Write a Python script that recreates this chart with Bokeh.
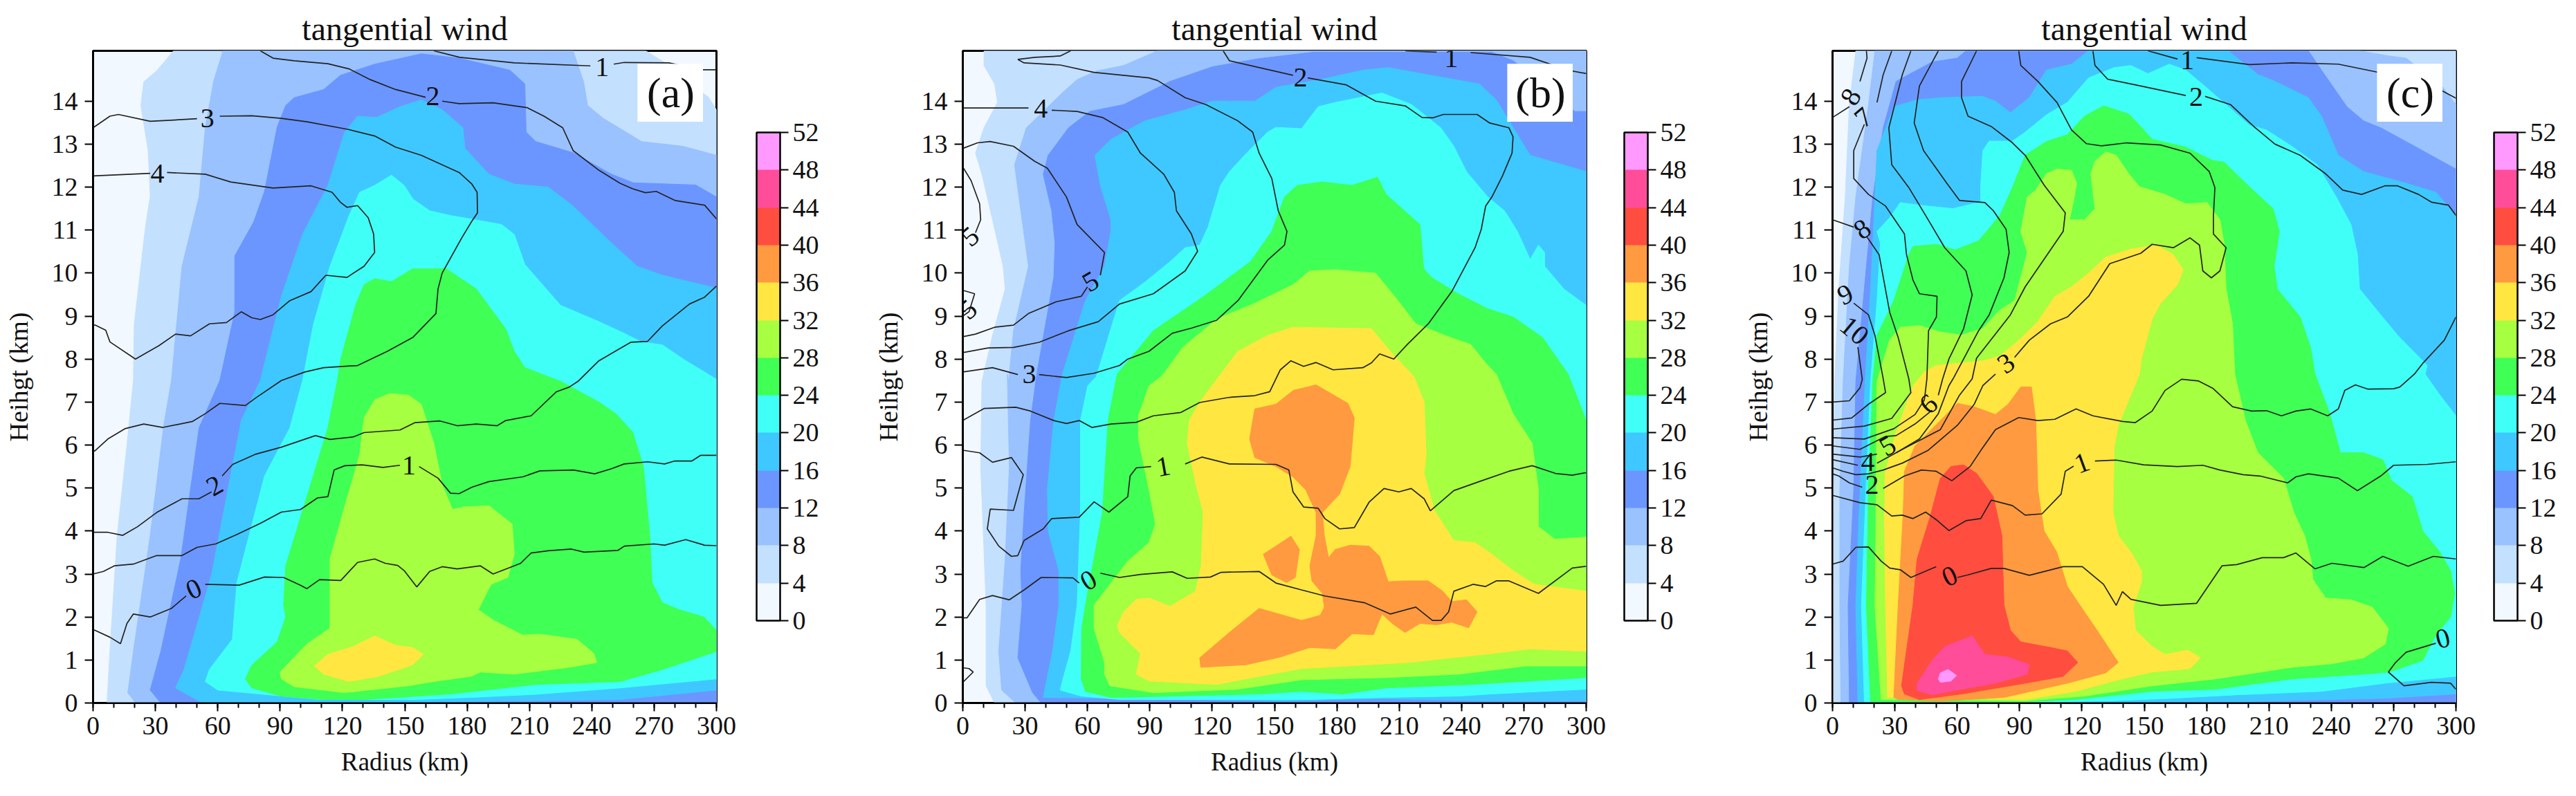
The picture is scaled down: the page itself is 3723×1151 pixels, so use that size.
from bokeh.plotting import figure
from bokeh.models import ColorBar, LinearColorMapper, FixedTicker, Range1d
from bokeh.layouts import row
from bokeh.embed import file_html
from bokeh.resources import INLINE
import numpy as np

GAP = (float("nan"), float("nan"))
FONT = "Liberation Serif"
TOP = 15.17

BAND_LEVELS = [0, 4, 8, 12, 16, 20, 24, 28, 32, 36, 40, 44, 48, 52]
BAND_COLORS = ["#F2F8FF", "#C4E0FF", "#99C2FF", "#6B96FF", "#3FC8FF", "#40FFF6", "#40FF55",
               "#A6FF40", "#FFE640", "#FF9A40", "#FF4D40", "#FF4D99", "#FF99FF"]
X_TICKS = [0, 30, 60, 90, 120, 150, 180, 210, 240, 270, 300]
X_MINOR = [0, 10, 20, 30, 40, 50, 60, 70, 80, 90, 100, 110, 120, 130, 140, 150, 160, 170, 180, 190, 200,
           210, 220, 230, 240, 250, 260, 270, 280, 290, 300]
Y_TICKS = [0, 1, 2, 3, 4, 5, 6, 7, 8, 9, 10, 11, 12, 13, 14]

# ---------------- panel (a): wind isotach outlines (radius km, height km)
A_GE4 = [(6.7,0),(8.1,1.2),(11.6,3.9),(16.3,6),(19.4,7.5),(19.8,8.8),(25,11),(27.5,11.8),(26.5,12.85),(23,13.9),(24.4,14.45),(30.5,14.7),(38.7,15.17),(266,15.17),(275,14.9),(285,14.7),(293,14.2),(296,14.1),(300,13.8),(300,0)]
A_GE8 = [(20.4,0),(16.7,.24),(19.4,1.2),(27.5,3.9),(34,6.46),(37.7,7.5),(42.8,10.16),(51,11.77),(54,13.38),(58,14.46),(62.5,15.17),(231,15.17),(236,14.46),(238,13.9),(245.5,13.6),(264,13.06),(284,12.95),(300,12.74),(300,0)]
A_GE12 = [(32.6,0),(27.5,.3),(32.6,1.2),(42.2,3.35),(51,6.4),(61,7.5),(68.2,9.1),(68.2,10.4),(77.4,11.2),(82.5,11.9),(88.6,13.4),(92.7,13.9),(96.8,14.08),(111,14.27),(119,14.6),(135.5,14.86),(158,15.1),(176,15),(200.6,14.72),(207.8,14.4),(208.4,13.28),(213,13.06),(231,12.8),(249.5,12.3),(260,12.1),(290,12.05),(300,11.77),(300,0)]
A_GE16 = [(52,.02),(39.7,.35),(43.8,.78),(57,2.98),(71.3,6.57),(80.5,7.5),(90.6,9.46),(100.8,10.9),(113,12.04),(121,13.27),(127.3,13.65),(136.5,13.62),(147.7,13.87),(158,14.03),(168,13.8),(178,13.38),(179,12.9),(190.5,12.3),(202.7,12.07),(219,12),(231,11.56),(249.5,10.7),(261.8,10.16),(274,9.95),(300,9.65),(300,.3),(253.6,.08),(156,.02)]
A_GE20 = [(109,.08),(60,.3),(54,.5),(56,.78),(67,1.48),(69.2,2.8),(82.5,5.28),(94.7,6.4),(100.8,7.5),(106,8.8),(114,10.16),(123.2,11.34),(128.3,11.88),(135.5,12.04),(143.6,12.28),(149.7,12.04),(154,11.72),(162,11.45),(172,11.34),(184,11.24),(196.6,11.13),(202.7,10.9),(207.8,10.2),(225,9.25),(243.5,8.87),(255.6,8.6),(263.8,8.4),(274,8.33),(284,8),(300,7.53),(300,.56),(253.6,.35),(212.9,.2),(182,.13),(156,.08)]
A_GE24 = [(73.3,.56),(76.4,.35),(90.6,.16),(111,.08),(131,.08),(172,.21),(212.9,.43),(253.6,.5),(274,.78),(300,1.2),(300,1.69),(294,2),(282,2.17),(274,2.33),(269,2.8),(267.9,3.9),(264.8,5.5),(259.7,6.3),(251.6,6.73),(243.4,7),(225,7.48),(207.8,7.8),(202.7,8.18),(198.6,8.7),(184.4,9.63),(170,10.1),(153.8,10.1),(143.6,9.8),(135.5,9.87),(130.4,9.73),(126.3,9.25),(119.2,8),(117.5,7.48),(113,6.4),(101.9,4.64),(92.7,3.19),(91.7,2.28),(92.7,2),(88.6,1.42),(76.4,.88)]
A_GE28 = [(90,.72),(90.6,.56),(96.8,.38),(121,.24),(151.8,.4),(164,.5),(182,.62),(186.4,.72),(202.7,.67),(229,.83),(242.4,.94),(241,1.15),(233,1.48),(215,1.6),(206.8,1.58),(192.5,1.93),(185.4,2.17),(191.5,2.76),(199.6,2.92),(202.7,3.46),(201.7,4.16),(190.5,4.59),(178.3,4.56),(173,4.5),(168,5.07),(164,6.04),(157.9,6.95),(151.8,7.16),(142.6,7.2),(135.5,7.05),(130.4,6.63),(128.3,5.77),(121.2,4.59),(114,3.35),(114,1.74),(102.9,1.37)]
A_GE32 = [(106.5,.86),(111,.67),(123,.5),(137.5,.62),(153.8,.89),(159,1.13),(153.8,1.29),(145.6,1.34),(135.5,1.56),(125,1.31),(113,1.13)]

# ---------------- panel (a): thin contour lines
A_LINE_1_TOP = [(164,15.17),(176.4,15.02),(202.7,14.89),(239.3,14.82),GAP,(250.6,14.86),(255.6,14.9),(277,14.89),(293.3,14.73),(300,14.73)]
A_LINE_2_TOP = [(80.5,15.17),(86.6,15),(96.8,14.94),(113,14.87),(123.2,14.75),(133.4,14.5),(145.6,14.27),(160,14.09),GAP,(168,14),(176.2,13.94),(192.5,13.96),(208.8,13.85),(217,13.65),(226,13.38),(231,12.85),(243.5,12.39),(253.6,12.09),(259.7,11.96),(265.8,11.87),(271,11.9),(280,11.69),(294.3,11.58),(300,11.26)]
A_LINE_3 = [(0,13.38),(8.1,13.65),(12.2,13.69),(27.5,13.53),(50,13.59),GAP,(61,13.65),(76.4,13.66),(90.6,13.6),(103,13.52),(123,13.34),(135.5,13.19),(145.6,12.93),(157.9,12.74),(176.2,12.34),(182.3,12.07),(184.8,11.88),(185,11.4),(182.3,11.21),(177.2,10.8),(168,10),(166,9.63),(165,9.06),(153.8,8.5),(141.6,8.18),(127.3,7.85),(111,7.8),(101.9,7.7),(90.6,7.5),(78.4,7.1),(73.3,6.92),(61,6.97),(54,6.73),(47.9,6.55),(33.6,6.41),(24.4,6.49),(15.3,6.38),(7.1,6.14),(1,5.87),(0,5.85)]
A_LINE_4 = [(0,12.26),(27.5,12.32),GAP,(35.6,12.34),(54,12.3),(66.2,12.12),(86.6,11.98),(104.9,12.03),(115,11.88),(119.2,11.64),(122.2,11.53),(127.3,11.57),(132.4,11.29),(135,10.91),(135.5,10.48),(130.4,10.16),(122.2,9.9),(112,9.95),(104.9,9.57),(94.7,9.36),(86.6,9.03),(80.5,8.92),(76.4,8.96),(71.3,9.1),(64.2,8.85),(56,8.82),(46.9,8.54),(39.7,8.58),(31.6,8.31),(20.4,8),(8.1,8.4),(6.1,8.67),(1,8.79),(0,8.79)]
A_LINE_2_LOW = [(300,9.7),(294.3,9.44),(287,9.28),(273.9,8.77),(266.8,8.41),(258.7,8.39),(243.4,7.96),(233.3,7.48),(229.2,7.35),(223,7.24),(210.8,6.68),(198.6,6.57),(194.5,6.45),(184.4,6.49),(175.2,6.45),(167,6.56),(154.8,6.52),(147.7,6.35),(130.4,6.29),(125.3,6.19),(114,6.13),(107,6.22),(90.6,5.95),(78.4,5.79),(67.2,5.55),(62.1,5.28),GAP,(57,4.91),(50.9,4.75),(42.8,4.75),(30.6,4.43),(21.4,4.1),(14.3,3.9),(7.1,3.97),(0,3.97)]
A_LINE_1_LOW = [(300,5.76),(292.3,5.76),(288.2,5.63),(280,5.63),(275,5.56),(266.9,5.61),(255.6,5.56),(249.5,5.45),(241.4,5.33),(231.2,5.42),(215,5.4),(206.8,5.26),(190.5,5.15),(182.3,5.02),(176.2,4.87),(172,4.88),(166,5.23),(156.9,5.5),GAP,(147.7,5.53),(139.5,5.48),(129.4,5.54),(121.2,5.52),(116,5.42),(113,4.8),(108,4.77),(99.8,4.5),(90.6,4.44),(80.5,4.18),(69.3,3.92),(59,3.7),(50,3.62),(42.8,3.43),(30.6,3.43),(19.4,3.23),(10.2,3.19),(5,3.06),(0,3)]
A_LINE_0 = [(300,3.66),(294.3,3.67),(285.2,3.8),(275,3.67),(270,3.7),(255.7,3.65),(252.6,3.55),(236.3,3.51),(230.2,3.58),(219,3.54),(210.8,3.49),(205.8,3.25),(192.5,3),(186.4,3.19),(175.2,3.12),(168,3.17),(162,3.06),(155.8,2.7),(149.7,3.08),(146.6,3.2),(140.6,3.25),(135.5,3.35),(127.3,3.27),(119.2,2.85),(109,2.87),(102.9,2.66),(99.8,2.74),(91.7,2.92),(82.5,2.93),(70.3,2.74),(54,2.76),GAP,(44.8,2.49),(37.7,2.2),(27.5,2),(19.4,2.07),(16.3,1.85),(13.2,1.38),(8.1,1.53),(1,1.69),(0,1.7)]
A_LABEL_TEXT = ["1", "2", "3", "4", "2", "1", "0"]
A_LABEL_R = [245, 163.5, 55, 31, 58.5, 152, 48.5]
A_LABEL_Z = [14.8, 14.12, 13.6, 12.32, 5.05, 5.52, 2.65]
A_LABEL_ANGLE = [0, 0, 0, 0, 30, 0, 25]

# ---------------- panel (b)
B_GE4 = [(15.3,0),(11.2,.4),(11.2,2.28),(8.6,5.5),(9.2,7.48),(14.3,8.55),(20.4,9.63),(19.4,10.16),(14.3,11.24),(9.2,12.3),(6.1,12.79),(10.2,13.38),(16.7,13.97),(15.3,14.4),(10.2,14.83),(10.2,15.17),(300,15.17),(300,0)]
B_GE8 = [(25.5,0),(18.7,.3),(17.3,1.2),(20.4,3.35),(22.4,5.5),(21.4,7.65),(22,7.48),(24.4,8.66),(31.6,10.16),(28.5,11.24),(24.9,12.52),(30.6,13.38),(48.9,14.24),(55,14.5),(64.2,14.7),(77.4,14.83),(93.7,15.17),(300,15.17),(300,0)]
B_GE12 = [(37.7,0),(33.6,.24),(26.5,1.05),(28.5,2.28),(27.9,3.08),(29.5,4.43),(32.6,6.57),(35.6,7.65),(43.8,9.9),(44.4,10.7),(42.8,11.45),(38.7,12.3),(41.1,12.74),(50.9,13.38),(61.1,13.76),(77.4,13.92),(99.8,14.46),(120.2,14.8),(142.6,14.99),(169,15.14),(254.6,15.14),(264.8,14.94),(280,14.4),(294.4,13.76),(300,13.76),(300,0)]
B_GE16 = [(38.7,.13),(43.2,1.2),(46.2,2.28),(46.2,3.08),(41.1,4),(40.7,4.96),(43.8,6.57),(47.9,7.65),(59,9.36),(68.2,10.16),(71.3,10.97),(71.3,11.24),(66.2,12.04),(63.6,12.74),(71.3,13.11),(87.6,13.54),(108,13.81),(120.2,14),(140.6,14),(150.7,14.32),(173,14.51),(192.5,14.72),(204.7,14.78),(223,14.62),(248.5,14.4),(256.7,14.03),(273,12.74),(300,12.36),(300,.05),(250.6,.05),(201.7,.1),(152.8,.05)]
B_GE20 = [(46.9,.3),(47.9,.51),(51.9,1.2),(55,2.28),(56.6,4.43),(56.6,6.57),(60.1,7.38),(64.2,7.59),(75.4,9.36),(87.6,9.79),(99.8,10.27),(107,10.59),(114,10.65),(118,11.07),(124,12.04),(128.3,12.36),(136.5,12.79),(146.7,13.28),(150.7,13.39),(163,13.36),(171,13.87),(179.3,13.97),(201.7,14.19),(216,13.92),(230,13.38),(236.3,12.95),(242.4,12.36),(252.6,11.77),(260.7,11.45),(266.9,10.97),(273,10.32),(277,10.65),(280,10.48),(280,10.16),(289.3,9.63),(300,9.25),(300,.32),(254.6,.21),(238.7,.16),(203.7,.13),(167,.08),(75.4,.08),(57,.16)]
B_GE24 = [(57,.56),(59,.27),(71.3,.13),(101.9,.16),(142.6,.21),(163,.27),(183,.21),(203.7,.35),(244.5,.43),(300,.59),(300,6.57),(291.3,7.65),(279,8.5),(264.8,8.98),(252.6,9.17),(238.3,9.52),(225.8,9.89),(221.8,10.1),(220,11.13),(203.7,11.83),(199.6,12.23),(187.3,12.04),(173,12.12),(160.9,12.04),(154.8,11.77),(148.7,10.97),(138.5,10.27),(116,9.46),(91.7,8.66),(74.3,7.65),(69.9,6.57),(67.2,4.43),(60,2.55),(57.2,1.74)]
B_GE28 = [(68.2,.67),(70.8,.4),(91.7,.24),(132.4,.32),(163,.54),(203.7,.59),(238.7,.67),(271,.86),(300,.86),(300,3.86),(285,3.81),(277,4.1),(277,4.96),(274,6.04),(264.8,6.73),(256.7,7.65),(251.6,7.91),(244.4,8.34),(232,8.55),(218,8.82),(207.8,9.46),(198.6,10),(179.3,10.08),(167,10.05),(158.9,9.73),(140.5,9.3),(122.2,8.93),(106,8.28),(95.7,7.6),(89.6,7.38),(84.5,6.68),(84.5,6.14),(89.6,4.96),(92.7,4.16),(89.6,3.73),(79.4,3.3),(63.2,2.28),(63.2,1.74),(68.2,.94)]
B_GE32 = [(300,1.2),(273,1.26),(254.6,1.15),(213.8,.94),(163,.8),(142.6,.62),(122.2,.43),(89.6,.51),(83.5,.67),(85.5,1.15),(75.4,1.64),(74.4,1.8),(77.4,2.12),(83.5,2.41),(89.6,2.44),(99.8,2.25),(112,2.6),(114.7,3.19),(115.7,4.43),(112,5.12),(108,6.04),(109,6.57),(114,7),(122.2,7.53),(132.4,8.18),(146.7,8.55),(158.9,8.74),(196.6,8.71),(205.7,8.18),(217,7.6),(222,7),(223,5.77),(222,5.34),(227,4.48),(236.2,3.78),(246.5,3.73),(254.6,3.46),(264.8,3.08),(275,2.76),(300,2.6)]
B_GE36_MAIN = [(170,7.4),(185.3,6.97),(188.4,6.63),(186.4,5.5),(181.3,4.86),(173,4.43),(174,3.89),(176,3.38),(179.2,3.57),(186.4,3.67),(195.5,3.65),(200.6,3.41),(204.7,2.82),(211.8,2.84),(224,2.84),(231,2.6),(235.3,2.36),(242.4,2.4),(247.5,2.12),(243.4,1.75),(235.3,1.88),(228,1.82),(220,1.85),(212.8,1.64),(206.7,1.85),(201.7,2.07),(197.6,1.59),(187.4,1.61),(179.3,1.26),(167,1.29),(152.8,1.07),(136.5,.89),(114.5,.83),(114,1.05),(128.3,1.64),(142.6,2.2),(163,1.92),(172,2.04),(174,2.23),(173,2.55),(168,2.84),(167,3.19),(170,3.89),(170,4.43),(165,4.96),(158.9,5.26),(150.7,5.5),(140.5,5.71),(138,6.14),(140.5,6.84),(150.7,6.95),(159,7.27)]
B_GE36_SIDE = [(157.9,3.88),(162,3.57),(160,2.92),(155.8,2.8),(148.7,2.98),(144.6,3.46),(150.7,3.65)]

B_LINE_1_TOP = [(212.9,15.17),(228,15.14),GAP,(244.4,15.13),(273,15.02),(291.3,14.72),(300,14.64)]
B_LINE_2_TOP = [(125.3,15.17),(128.3,14.94),(158.9,14.6),GAP,(166,14.54),(184.4,14.38),(198.6,14),(212.9,13.89),(221,13.62),(226.1,13.61),(231.2,13.69),(247.5,13.69),(253.6,13.49),(262.8,13.38),(264.8,13.17),(264.3,12.79),(259.7,12.26),(254.6,11.77),(251.6,11.56),(249.5,11.02),(246.5,10.59),(235.3,9.57),(224,8.82),(213.9,8.34),(207.4,8),(200.6,8.12),(196.6,7.91),(192.5,7.8),(178.2,7.75),(170,7.92),(164,7.83),(157.9,7.96),(152.8,7.75),(151.8,7.65),(147.7,7.24),(140.5,7.15),(128.3,7.11),(114,6.99),(105,6.76),(91.7,6.68),(83.5,6.53),(71.3,6.49),(62.1,6.41),(56,6.57),(49.9,6.5),(43.8,6.57),(32.6,6.79),(25.5,6.88),(10.2,6.85),(1,6.6),(0,6.57)]
B_LINE_1_LOW = [(300,5.36),(293.3,5.3),(285.2,5.34),(274,5.52),(262.8,5.39),(248.5,5.15),(236.3,4.94),(225,4.47),(222,4.75),(215.8,4.99),(209.8,4.91),(202.7,4.99),(195.5,4.67),(188.4,4.08),(181.3,4.05),(174.2,4.29),(171,4.53),(164,4.56),(158.9,4.91),(156.9,5.42),(150.7,5.55),(128.3,5.56),(115,5.72),(107,5.56),GAP,(90.6,5.5),(83.5,5.47),(80.5,5.28),(79.4,4.8),(70.3,4.44),(63.2,4.68),(56,4.32),(42.8,4.29),(38.7,4.05),(29.5,3.78),(26.5,3.43),(23.4,3.41),(17.3,3.65),(11.8,4.05),(13.2,4.51),(24.4,4.48),(29.1,5.31),(23.4,5.71),(14.3,5.6),(8.1,5.82),(0,5.88)]
B_LINE_0 = [(300,3.18),(293.3,3.14),(277,2.55),(262.8,2.84),(256.7,2.84),(251.6,2.71),(245.5,2.76),(236.3,2.6),(233.8,2.12),(230.2,1.92),(226,1.92),(218,2.23),(205.7,2.07),(193.5,2.33),(174.2,2.49),(163,2.63),(150.7,2.79),(142.6,3.06),(124.3,3.04),(119.2,2.93),(108,2.9),(100.8,3.05),(85.5,2.99),(75.4,2.92),(66.2,3.02),GAP,(56,2.79),(53,2.91),(37.7,2.92),(29.5,2.63),(22.4,2.4),(14.3,2.5),(8.1,2.41),(2,1.98),(0,1.98)]
B_LINE_0_LOOP = [(0,.48),(5,.72),(3,.8),(0,.82)]
B_LINE_3 = [(0,7.7),(14.3,7.8),(26.5,7.64),GAP,(36.7,7.64),(49.9,7.57),(63.1,7.67),(75.4,7.85),(79.4,8),(89.6,8.18),(100.8,8.6),(110,8.72),(122,8.9),(132.4,9.36),(146.7,10.3),(154.8,10.65),(156,10.97),(151.8,11.45),(148.7,12.2),(142.6,12.79),(139.5,13.28),(132.4,13.54),(117,13.92),(107,14.08),(93.7,14.48),(89.6,14.54),(63.1,14.67),(46.9,14.84),(29.5,14.89),(26.5,14.97),(34.8,15.02),(46.9,15.05),(51.9,15.17)]
B_LINE_4 = [(0,13.84),(31.6,13.84),GAP,(42.8,13.79),(55,13.76),(67.2,13.62),(79.4,13.28),(85.5,12.79),(96.7,12.3),(101.8,11.88),(102.8,11.45),(110,10.91),(113,10.51),(107,10.05),(91.7,9.52),(75.4,9.28),(65.2,8.87),(50.9,8.66),(36.7,8.39),(24.4,8.27),(12.2,8.26),(0,8.15)]
B_LINE_5 = [(0,12.9),(7.1,13.03),(13.2,13.06),(24.4,12.95),(34.6,12.6),(40.7,12.44),(49.9,11.77),(55,11.13),(68.2,10.48),(66.2,9.95),GAP,(60,9.68),(57,9.46),(44.8,9.33),(31.6,9.06),(24.4,8.79),(15.3,8.74),(6.1,8.58),(0,8.52)]
B_LINE_5_EDGE = [(0,12.47),(4,12.15),(8.1,11.61),(8.6,11.24),(6.1,10.94)]
B_LINE_5_EDGE2 = [(0,9.6),(5.7,9.52),(3,9.1),(0,9)]
B_LABEL_TEXT = ["1", "2", "3", "4", "5", "5", "5", "1", "0"]
B_LABEL_R = [235, 162.5, 32, 37.5, 61.5, 3.5, 2.5, 96.5, 60.5]
B_LABEL_Z = [15, 14.55, 7.65, 13.82, 9.8, 10.85, 9.15, 5.5, 2.85]
B_LABEL_ANGLE = [0, 0, 0, 0, 30, 40, 40, 10, 30]

# ---------------- panel (c)
C_GE4 = [(0,2.82),(.6,6.04),(1,7.48),(3,9.63),(6.1,11.77),(8.1,13.92),(11.2,15.17),(300,15.17),(300,0),(0,0)]
C_GE8 = [(4,0),(3.5,2.28),(3.5,4.96),(5.1,7.48),(8.1,10.16),(11.2,11.77),(17.3,13.92),(20.4,15.17),(253.6,15.17),(267.9,15.05),(276,15),(293.3,14.35),(300,13.92),(300,0)]
C_GE12 = [(8.1,0),(7.5,2.28),(10.2,4.96),(11.2,7.48),(16.3,10.16),(19.4,11.77),(24.4,13.38),(30.6,14.46),(47.9,14.91),(60,15),(64.2,15.17),(229,15.17),(235.3,14.72),(247.5,13.87),(255.6,13.54),(263.8,13.38),(276,13.06),(300,12.42),(300,0)]
C_GE16 = [(12.2,0),(11.2,2.28),(12.8,4.43),(15.7,7.48),(18.3,9.63),(20.4,11.77),(21.4,12.85),(29.5,13.87),(40.7,14.03),(51.9,14.08),(72.3,14.11),(78.4,14),(85.6,13.73),(94.7,14.08),(102.9,14.72),(115,14.86),(123.2,15.17),(190.5,15.17),(204.7,14.62),(212.9,14.46),(229,14.08),(235.3,13.65),(243.4,12.74),(255.6,12.36),(276,12.09),(290.3,11.88),(300,11.34),(300,.21),(265.8,.11),(194.6,.03),(133,.02)]
C_GE20 = [(15.3,.03),(13.9,2.28),(16.1,4.96),(18.3,7.48),(21.4,9.36),(23,10.7),(21.4,10.97),(27.5,11.29),(32.6,11.64),(41.8,11.58),(58,11.5),(71.3,11.66),(71.3,12.04),(72.3,12.85),(75.4,13.07),(86.6,13.07),(92.7,13.28),(102.9,13.68),(113,13.97),(123.2,14.54),(135.5,14.78),(143.6,14.83),(151.8,14.64),(162,14.86),(170,14.72),(180.3,14.3),(190.5,13.87),(200.6,13.44),(208.8,13.33),(221,12.95),(233.2,12.52),(242.4,11.77),(249.5,11.13),(252.6,10.43),(253.6,9.63),(263.8,9.03),(272,8.55),(286.2,7.85),(285.2,7.65),(292.3,7.16),(300,6.68),(300,.62),(265.8,.46),(235.3,.27),(194.6,.19),(164,.11),(133.4,.05),(92.7,.02)]
C_GE20_POCKET = [(32.6,13.28),(44.2,13.28),(44.2,12.85),(34.6,12.31),(29.5,12.36),(28.5,12.85)]
C_GE24 = [(18.3,.03),(16.3,2.28),(17.3,4.96),(19.4,7.48),(21.4,8.55),(29.5,9.36),(36.7,10.43),(38.7,10.62),(49.9,10.67),(59,10.54),(70.3,10.75),(80.5,11.34),(86.6,11.99),(92.7,12.74),(102.9,13.06),(113,13.22),(121.2,13.65),(130.4,13.89),(142.6,13.7),(147.7,13.44),(153.8,13.11),(170,12.93),(182.3,12.63),(188.4,12.58),(201,11.99),(212,11.5),(215,10.97),(212.5,10.16),(214,9.63),(225,8.98),(230,8.28),(232.2,7.65),(239.3,6.73),(244.4,5.82),(255.6,5.82),(264.8,5.66),(268.9,5.18),(279,4.8),(284,4),(292.3,3.51),(297.4,3.08),(299.4,2.55),(297.4,2),(290.3,1.58),(284,.99),(267.9,.72),(255.6,.67),(221,.56),(184.4,.32),(153.8,.27),(117,.08),(92.7,.03)]
C_GE28 = [(23.4,.08),(20.4,2.28),(20.8,3.9),(21.4,7.48),(27.5,8.45),(32.6,8.74),(41.8,8.78),(51.9,8.63),(62.1,8.56),(72.3,8.71),(80.5,9.14),(87.6,9.36),(93.7,10.48),(90.6,10.97),(93.7,11.77),(97.8,11.93),(102.9,12.31),(108,12.42),(115,12.39),(117.5,12.09),(116,11.67),(114,11.24),(121.2,11.24),(126.3,11.5),(124.3,12.31),(126.3,12.6),(131.4,12.82),(136.5,12.74),(142.6,12.31),(147.7,12.01),(160,11.83),(170,11.61),(180.3,11.64),(186.4,11.24),(188.4,10.7),(189.4,9.63),(192.5,8.82),(193.6,7.65),(198.7,6.57),(204.7,5.82),(217,5.23),(222,4.43),(227.2,3.89),(230.2,3.35),(231.2,2.87),(237.3,2.44),(249.5,2.4),(259.7,2.23),(267.5,1.74),(266,1.37),(255.6,1.05),(239.9,.91),(221,.83),(184.4,.56),(153.8,.4),(121.2,.16),(92.7,.05)]
C_GE32 = [(26.5,.13),(25.5,2.28),(25,4.21),(25.3,5.35),(30,6.2),(35,6.88),(39,7.4),(44.4,7.71),(49.9,7.85),(72.3,7.96),(80.5,8.07),(88.6,8.39),(98.8,8.87),(107,9.46),(115,9.68),(123.2,10),(131.4,10.37),(143.6,10.56),(155.8,10.65),(164,10.43),(168.7,10.08),(166,9.73),(157.9,9.3),(153.8,8.93),(148.7,8.02),(147.7,7.65),(137.5,6.46),(135.5,5.93),(135,4.43),(137.5,3.89),(143.6,3.51),(148.7,3.08),(148.7,2.82),(144.7,2.23),(145.8,1.69),(154,1.31),(160,1.13),(171,1.23),(177,1.05),(172,.8),(153.8,.72),(137.5,.54),(117,.27),(92.7,.08)]
C_GE36 = [(29.5,.13),(31.6,2.28),(34,4.43),(34.6,5.39),(39.7,5.98),(51.9,6.57),(60.1,6.97),(68.2,6.89),(78.4,6.71),(84.5,6.95),(90.6,7.35),(95.7,7.35),(97.8,6.57),(98.8,4.96),(101.8,4),(107.9,3.51),(113,2.71),(121.2,2.12),(127.3,1.69),(137.5,.94),(131.4,.7),(113,.46),(82.5,.13),(52,.04),(31.6,.08)]
C_GE40 = [(33.2,.4),(38.7,2.28),(40.7,3.35),(46.9,4.32),(51.9,5.23),(57,5.5),(63.1,5.54),(69.3,5.34),(77.4,4.8),(81.5,3.89),(82.5,2.28),(85.6,1.69),(90.6,1.42),(104.9,1.29),(113,1.21),(118,.94),(111,.62),(92.7,.46),(62.1,.21),(41.8,.08),(34.6,.21)]
C_GE44 = [(40.7,.46),(47.9,.99),(54,1.31),(67.2,1.56),(73.3,1.13),(84.5,1.07),(94.7,.89),(93.7,.67),(78.4,.46),(62.1,.32),(47.9,.19),(40.7,.29)]
C_GE48 = [(50.9,.56),(51.9,.7),(55.6,.78),(59.7,.64),(57,.51),(51.9,.48)]

C_LINE_1_TOP = [(151.8,15.17),(166,14.98),GAP,(175.2,15.01),(200.6,14.85),(221,14.89),(243.4,14.86),(261.7,14.68),(293.3,14.24),(300,14.07)]
C_LINE_2_TOP = [(125.3,15.17),(126.3,14.83),(132.4,14.51),(145.6,14.38),(170,14.13),GAP,(179.3,14.11),(191.5,13.92),(202.7,13.41),(212.9,13),(225,12.74),(237.3,12.31),(245.5,11.93),(254.6,11.83),(265.8,12.03),(271.9,12.03),(282,11.83),(288.2,11.65),(296.4,11.58),(300,11.34)]
C_LINE_2 = [(300,8.98),(294.4,8.44),(284.2,7.91),(280,7.65),(273,7.35),(270,7.31),(257.7,7.3),(251.6,7.4),(246.5,7.27),(243.4,6.84),(238.3,6.68),(230,6.84),(223,6.79),(216,6.68),(208.8,6.8),(201.7,6.79),(192.5,6.89),(183,7.32),(176.2,7.49),(168,7.53),(160,7.27),(153.8,6.79),(145.6,6.52),(139.5,6.55),(125.3,6.68),(117.2,6.84),(107,6.6),(98.8,6.57),(89.6,6.64),(78.4,6.36),(71.3,5.87),(66.2,5.5),(57.4,5.17),(49.9,5.39),(42.8,5.42),(34.6,5.28),(24.4,4.99),GAP,(14.3,5.02),(8.1,5.12),(3,5.28),(0,5.33)]
C_LINE_1 = [(300,5.61),(286.2,5.55),(270,5.53),(263.8,5.28),(252.6,4.94),(243.4,5.23),(229,5.33),(223,5.26),(219,5.12),(205.7,5.28),(197.6,5.31),(186.4,5.42),(178.2,5.53),(166,5.5),(149.7,5.54),(136.5,5.65),(126.3,5.63),GAP,(116,5.51),(112,5.39),(110,4.86),(100.8,4.4),(92.7,4.37),(86.6,4.59),(76.4,4.72),(71.3,4.29),(64.2,4.24),(56,4.01),(50,4.26),(44.8,4.44),(38.7,4.29),(33.6,4.37),(28.5,4.35),(21.4,4.61),(13.2,4.66),(0,4.83)]
C_LINE_0 = [(0,3.23),(5.1,3.3),(11.2,3.62),(17.3,3.63),(23.4,3.3),(27.5,3.14),(32.6,3.1),(37.7,2.92),(49.9,3.17),GAP,(60.1,2.92),(65.2,2.98),(76.4,3.13),(82.5,3.13),(94.7,2.97),(111,3.17),(120.2,3.17),(130.4,2.76),(136.5,2.27),(139.5,2.59),(143.6,2.41),(157.9,2.27),(175.2,2.32),(187.4,3.19),(194.5,3.22),(206.8,3.38),(217,3.38),(223,3.49),(232.2,3.12),(240.3,3.25),(255.7,3.15),(264.8,3.41),(277,3.18),(289.1,3.41),(300,3.35)]
C_LINE_0_LOW = [(300,1.61),GAP,(290.3,1.39),(276,1.18),(270.9,.94),(267.5,.72),(275,.4),(288.2,.48),(297.4,.46),(300,.32)]
C_LINE_3 = [(0,5.47),(5.1,5.39),(11.2,5.31),(17.3,5.33),(24.4,5.42),(33.6,5.58),(45.8,5.87),(60.1,6.46),(68.2,6.95),(72.3,7.38),(78.4,7.65),GAP,(87.6,8.04),(94.7,8.44),(104.9,8.82),(113,8.98),(123.2,9.46),(133.4,10.22),(148.3,10.46),(153.8,10.67),(164,10.59),(172,10.82),(176.6,10.65),(178.2,10.05),(182.3,9.89),(186.4,10.05),(189.4,10.59),(183.3,10.91),(183.3,11.34),(184,11.99),(181.3,12.36),(172,12.79),(157.9,12.98),(141.6,13.03),(129.4,12.96),(122.2,13.01),(115,13.33),(108,13.97),(98.8,14.46),(90.6,14.83),(89.6,15.17)]
C_LINE_4 = [(0,5.66),(12.2,5.53),GAP,(21.4,5.58),(33.6,5.9),(51.9,6.36),(61.1,7.16),(67.2,7.54),(69.3,8.02),(85.6,9.03),(92.7,9.68),(111,10.97),(112,11.4),(101.9,12.04),(92.7,12.74),(86.6,13.03),(76.4,13.41),(65.2,13.65),(62.1,14.08),(62.1,14.46),(69.3,15.17)]
C_LINE_5 = [(0,5.79),(13.2,5.72),(21.4,5.79),GAP,(30.6,5.82),(41.8,6.14),(50.9,6.73),(56,7.38),(58,7.54),(70.3,8.66),(75.4,9.03),(82.5,9.89),(85,10.48),(83.5,11.02),(77.4,11.45),(73.3,11.64),(61.1,11.69),(55,12.09),(43.8,12.85),(39.3,13.49),(41.8,14.35),(50.9,15.17)]
C_LINE_6 = [(0,5.98),(13.2,5.9),(25.5,6.2),(30.6,6.22),(39.7,6.49),(47.9,6.81),GAP,(50.9,7.16),(53,7.54),(56,8),(63.1,8.71),(67.2,9.49),(64.2,10.05),(54,10.59),(44.8,11.34),(36.7,11.99),(28.5,12.52),(27.1,13.38),(33.6,14.62),(37.7,15.17)]
C_LINE_7 = [(0,6.17),(15.3,6.14),(29.5,6.38),(39.7,6.71),(44.2,7.05),(45.4,7.54),(46.2,8.66),(50,8.98),(50.3,9.46),(41.8,9.52),(38.7,9.84),(35.6,10.43),(34.6,10.91),(25.5,11.56),(17.3,11.83),(10.2,12.2),(10.2,12.85),(15.3,13.46),GAP,(21.4,13.97),(24.4,14.62),(28.5,15.17)]
C_LINE_8 = [(0,6.37),(15.3,6.44),(28.5,6.62),(37.7,7.22),(36.7,7.54),(31.6,8.5),(27.5,9.09),(22.4,10.43),(16.3,10.86),GAP,(10.2,11.07),(0,11.24)]
C_LINE_8_TOP = [(0,13.62),(8.1,13.87),GAP,(13.2,14.46),(16.6,15),(16.3,15.17)]
C_LINE_9 = [(0,6.58),(9.2,6.63),(17.3,6.95),(25.5,7.22),(24.4,7.54),(20.4,8.55),(17.3,9.03),(10.2,9.3)]
C_LINE_10 = [(0,7),(8.1,7.03),(13.2,7.33),(14.3,7.53),(12.2,8.28)]
C_LABEL_TEXT = ["1", "2", "8", "7", "8", "9", "10", "3", "6", "5", "4", "2", "1", "0", "0"]
C_LABEL_R = [170.7, 175, 8.8, 14.9, 14.3, 6.1, 10.5, 83.5, 46.2, 26.5, 17, 19, 120, 56.4, 293.7]
C_LABEL_Z = [14.95, 14.1, 14.1, 13.62, 11.02, 9.5, 8.66, 7.9, 6.95, 5.98, 5.6, 5.07, 5.58, 2.95, 1.5]
C_LABEL_ANGLE = [0, 0, 60, 40, 35, 25, -40, 35, 40, 30, 0, 0, 20, 25, 15]


def panel(tag, bands, lines, labels, right_border, bar_offset):
    p = figure(frame_width=901, frame_height=943, min_border_left=134, min_border_right=right_border,
               min_border_top=73, min_border_bottom=115, output_backend="svg", toolbar_location=None,
               x_range=Range1d(0, 300), y_range=Range1d(0, TOP), title="tangential wind",
               x_axis_label="Radius (km)", y_axis_label="Heihgt (km)")
    p.background_fill_color = BAND_COLORS[0]
    p.grid.visible = False
    p.outline_line_color = "black"
    p.outline_line_width = 3
    p.title.align = "center"
    p.title.text_font = FONT
    p.title.text_font_size = "48px"
    p.title.text_font_style = "normal"
    p.title.text_color = "#111111"
    p.title.standoff = 11
    p.xaxis.ticker = FixedTicker(ticks=X_TICKS, minor_ticks=X_MINOR)
    p.yaxis.ticker = FixedTicker(ticks=Y_TICKS, minor_ticks=[])
    for ax in (p.xaxis[0], p.yaxis[0]):
        ax.axis_label_text_font = FONT
        ax.axis_label_text_font_style = "normal"
        ax.axis_label_text_color = "#111111"
        ax.major_label_text_font = FONT
        ax.major_label_text_font_size = "38px"
        ax.major_label_text_color = "#111111"
        ax.axis_line_width = 2
        ax.major_tick_line_width = 2
        ax.minor_tick_line_width = 2
        ax.major_tick_in = 0
        ax.major_tick_out = 12
        ax.minor_tick_in = 0
        ax.minor_tick_out = 7
    p.xaxis.axis_label_text_font_size = "37px"
    p.yaxis.axis_label_text_font_size = "38px"
    p.xaxis.major_label_standoff = 8
    p.yaxis.major_label_standoff = 10
    p.yaxis.major_label_orientation = "horizontal"
    p.xaxis.axis_label_standoff = 16
    p.yaxis.axis_label_standoff = 24

    for level, outline in bands:
        r, z = zip(*outline)
        color = BAND_COLORS[BAND_LEVELS.index(level)]
        p.patch(list(r), list(z), fill_color=color, line_color=color, line_width=1)
    for line in lines:
        r, z = zip(*line)
        p.line(list(r), list(z), line_color="#222222", line_width=1.7)
    text, lr, lz, angle = labels
    p.text(lr, lz, text=text, angle=angle, angle_units="deg", text_font=FONT, text_font_size="40px",
           text_align="center", text_baseline="middle", text_color="#111111")
    p.quad(left=[262], right=[293.5], bottom=[13.52], top=[14.87], fill_color="white", line_color=None)
    p.text([278], [14.2], text=[tag], text_font=FONT, text_font_size="62px", text_align="center",
           text_baseline="middle", text_color="#111111")

    mapper = LinearColorMapper(palette=BAND_COLORS, low=BAND_LEVELS[0], high=BAND_LEVELS[-1])
    cb = ColorBar(color_mapper=mapper, ticker=FixedTicker(ticks=BAND_LEVELS), location=(901 + bar_offset, 119),
                  width=34, height=706, padding=0, margin=0, major_tick_in=0, major_tick_out=12,
                  major_tick_line_color="black", major_tick_line_width=2, bar_line_color="black",
                  bar_line_width=2.5, border_line_color=None, background_fill_color=None, label_standoff=6,
                  major_label_text_font=FONT, major_label_text_font_size="38px",
                  major_label_text_color="#111111", minor_tick_line_color=None)
    p.add_layout(cb, "center")
    return p


pa = panel("(a)",
           [(4, A_GE4), (8, A_GE8), (12, A_GE12), (16, A_GE16), (20, A_GE20), (24, A_GE24), (28, A_GE28), (32, A_GE32)],
           [A_LINE_1_TOP, A_LINE_2_TOP, A_LINE_3, A_LINE_4, A_LINE_2_LOW, A_LINE_1_LOW, A_LINE_0],
           (A_LABEL_TEXT, A_LABEL_R, A_LABEL_Z, A_LABEL_ANGLE), 222, 58)
pb = panel("(b)",
           [(4, B_GE4), (8, B_GE8), (12, B_GE12), (16, B_GE16), (20, B_GE20), (24, B_GE24), (28, B_GE28), (32, B_GE32),
            (36, B_GE36_MAIN), (36, B_GE36_SIDE)],
           [B_LINE_1_TOP, B_LINE_2_TOP, B_LINE_1_LOW, B_LINE_0, B_LINE_0_LOOP, B_LINE_3, B_LINE_4, B_LINE_5,
            B_LINE_5_EDGE, B_LINE_5_EDGE2],
           (B_LABEL_TEXT, B_LABEL_R, B_LABEL_Z, B_LABEL_ANGLE), 222, 55)
pc = panel("(c)",
           [(4, C_GE4), (8, C_GE8), (12, C_GE12), (16, C_GE16), (20, C_GE20), (16, C_GE20_POCKET), (24, C_GE24),
            (28, C_GE28), (32, C_GE32), (36, C_GE36), (40, C_GE40), (44, C_GE44), (48, C_GE48)],
           [C_LINE_1_TOP, C_LINE_2_TOP, C_LINE_2, C_LINE_1, C_LINE_0, C_LINE_0_LOW, C_LINE_3, C_LINE_4, C_LINE_5,
            C_LINE_6, C_LINE_7, C_LINE_8, C_LINE_8_TOP, C_LINE_9, C_LINE_10],
           (C_LABEL_TEXT, C_LABEL_R, C_LABEL_Z, C_LABEL_ANGLE), 152, 55)

layout = row(pa, pb, pc, spacing=0)
open("out.html", "w").write(file_html(layout, INLINE))
